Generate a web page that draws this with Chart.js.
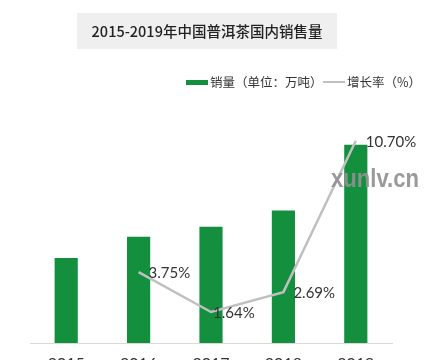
<!DOCTYPE html>
<html>
<head>
<meta charset="utf-8">
<script src="https://cdn.jsdelivr.net/npm/chart.js@4.4.1/dist/chart.umd.min.js"></script>
<style>
  html, body { margin: 0; padding: 0; background: #fff; overflow: hidden; }
  #wrap { width: 428px; height: 360px; overflow: hidden; }
</style>
</head>
<body>
<div id="wrap"><canvas id="chart" width="428" height="378"></canvas></div>
<script>
const years = ['2015', '2016', '2017', '2018', '2019'];
const sales = [8.00, 8.30, 8.44, 8.67, 9.60];        // 万吨
const growth = [null, 3.75, 1.64, 2.69, 10.70];       // %
const titleText = '2015-2019年中国普洱茶国内销售量';
const salesLabel = '销量（单位：万吨）';
const growthLabel = '增长率（%）';
const watermark = 'xunlv.cn';

const FONT = '"Noto Sans CJK SC", "Noto Sans", sans-serif';
const NUMFONT = 'Lato, "Noto Sans", sans-serif';
const GREEN = '#138f3d';
const GREY = '#c0c0c0';

// title box, legend, growth labels and watermark
const decor = {
  id: 'decor',
  afterDatasetsDraw(chart) {
    const ctx = chart.ctx;
    ctx.save();

    ctx.fillStyle = '#efefef';
    ctx.fillRect(77, 13, 260, 36);
    ctx.fillStyle = '#222';
    ctx.font = '500 14.5px ' + FONT;
    ctx.textAlign = 'center';
    ctx.textBaseline = 'middle';
    ctx.fillText(titleText, 207, 31);

    ctx.font = '12.5px ' + FONT;
    ctx.textAlign = 'left';
    ctx.fillStyle = GREEN;
    ctx.fillRect(186, 80, 22, 5);
    ctx.fillStyle = '#333';
    ctx.fillText(salesLabel, 210, 82);
    ctx.strokeStyle = GREY;
    ctx.lineWidth = 2;
    ctx.beginPath();
    ctx.moveTo(323, 82);
    ctx.lineTo(345, 82);
    ctx.stroke();
    ctx.fillText(growthLabel, 347, 82);

    const meta = chart.getDatasetMeta(1);
    const dx = [0, 10, 2, 10, 10];
    ctx.font = '15px ' + NUMFONT;
    ctx.fillStyle = '#333';
    meta.data.forEach((pt, i) => {
      if (growth[i] == null) return;
      ctx.fillText(growth[i].toFixed(2) + '%', pt.x + dx[i], pt.y + 1);
    });

    // watermark, slightly condensed bold
    ctx.translate(331, 180);
    ctx.scale(0.85, 1);
    ctx.font = 'bold 26px "Liberation Sans", sans-serif';
    ctx.fillStyle = 'rgba(145,145,145,0.92)';
    ctx.fillText(watermark, 0, 0);
    ctx.restore();
  }
};

new Chart(document.getElementById('chart'), {
  type: 'bar',
  data: {
    labels: years,
    datasets: [
      {
        type: 'bar',
        label: salesLabel,
        data: sales,
        backgroundColor: GREEN,
        barPercentage: 0.32,
        categoryPercentage: 1,
        yAxisID: 'y',
        order: 2
      },
      {
        type: 'line',
        label: growthLabel,
        data: growth,
        borderColor: GREY,
        borderWidth: 2.5,
        pointRadius: 0,
        tension: 0,
        spanGaps: false,
        yAxisID: 'y1',
        order: 1
      }
    ]
  },
  options: {
    responsive: false,
    animation: false,
    layout: { padding: { top: 105, left: 30, right: 36, bottom: 0 } },
    plugins: {
      legend: { display: false },
      title: { display: false },
      tooltip: { enabled: false }
    },
    scales: {
      x: {
        grid: { display: false, drawTicks: false },
        border: { display: true, color: '#d9d9d9', width: 1 },
        ticks: { color: '#333', font: { size: 16, family: NUMFONT }, padding: 11 },
        afterFit: (scale) => { scale.height = 35; }
      },
      y: { display: false, min: 6.8, max: 10.16 },
      y1: { display: false, min: 0, max: 12.59 }
    }
  },
  plugins: [decor]
});
</script>
</body>
</html>
